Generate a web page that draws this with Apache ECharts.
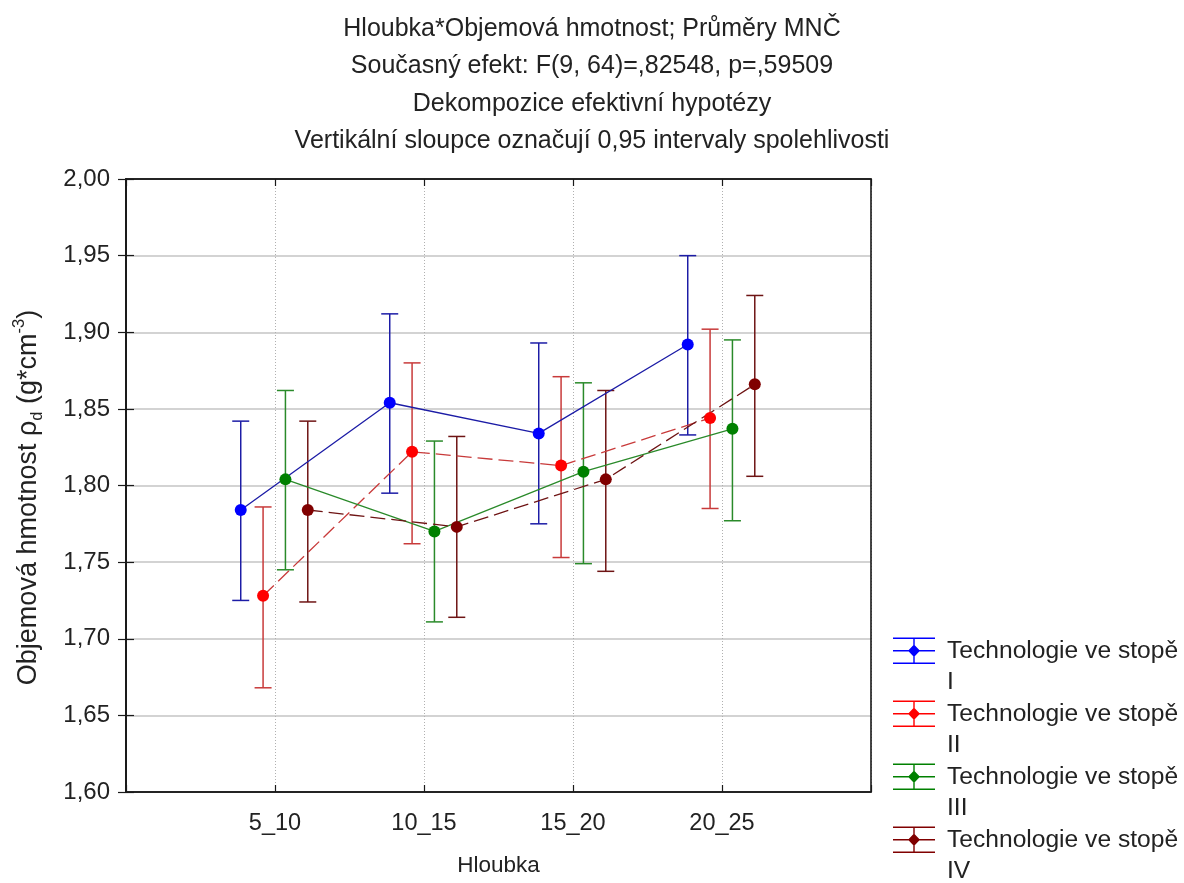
<!DOCTYPE html>
<html>
<head>
<meta charset="utf-8">
<script src="https://cdn.jsdelivr.net/npm/echarts@6/dist/echarts.min.js"></script>
<style>
html,body{margin:0;padding:0;background:#fff;}
#chart{width:1184px;height:883px;}
</style>
</head>
<body>
<div id="chart"></div>
<script>
// ---- data ----
const categories = ['5_10', '10_15', '15_20', '20_25'];
const seriesNames = ['Technologie ve stopě I', 'Technologie ve stopě II', 'Technologie ve stopě III', 'Technologie ve stopě IV'];
const yTicks = [1.60, 1.65, 1.70, 1.75, 1.80, 1.85, 1.90, 1.95, 2.00];

const meanI   = [1.784, 1.854, 1.834, 1.892];
const lowI    = [1.725, 1.795, 1.775, 1.833];
const highI   = [1.842, 1.912, 1.893, 1.950];

const meanII  = [1.728, 1.822, 1.813, 1.844];
const lowII   = [1.668, 1.762, 1.753, 1.785];
const highII  = [1.786, 1.880, 1.871, 1.902];

const meanIII = [1.804, 1.770, 1.809, 1.837];
const lowIII  = [1.745, 1.711, 1.749, 1.777];
const highIII = [1.862, 1.829, 1.867, 1.895];

const meanIV  = [1.784, 1.773, 1.804, 1.866];
const lowIV   = [1.724, 1.714, 1.744, 1.806];
const highIV  = [1.842, 1.832, 1.862, 1.924];

// ---- styling / layout ----
const FONT = 'Liberation Sans, Arial, sans-serif';
const groups = [
  { mean: meanI,   low: lowI,   high: highI,   marker: '#0000ff', line: '#1c1ca6', dash: 'solid' },
  { mean: meanII,  low: lowII,  high: highII,  marker: '#ff0000', line: '#c83a3a', dash: [15, 6] },
  { mean: meanIII, low: lowIII, high: highIII, marker: '#008000', line: '#2a8a2a', dash: 'solid' },
  { mean: meanIV,  low: lowIV,  high: highIV,  marker: '#800000', line: '#6e1414', dash: [15, 6] }
];
const offsets = [-0.23, -0.08, 0.07, 0.22];

const iconPath = 'path://M0,0M49,63M0,2.5H42V4H0ZM0,15H42V16.5H0ZM0,27.5H42V29H0ZM20.3,2.5H21.7V29H20.3ZM21,9.5L27,15.75L21,22L15,15.75Z';

const series = [];
groups.forEach((g, si) => {
  const xs = categories.map((c, i) => i + 1 + offsets[si]);
  series.push({
    type: 'custom',
    silent: true,
    z: 2,
    encode: { x: 0, y: [1, 2] },
    data: xs.map((x, i) => [x, g.low[i], g.high[i]]),
    renderItem: function (params, api) {
      const x = api.value(0);
      const top = api.coord([x, api.value(2)]);
      const bot = api.coord([x, api.value(1)]);
      const w = 8.5;
      const st = { stroke: g.line, lineWidth: 1.5, fill: null };
      return {
        type: 'group',
        children: [
          { type: 'line', shape: { x1: top[0], y1: top[1], x2: bot[0], y2: bot[1] }, style: st },
          { type: 'line', shape: { x1: top[0] - w, y1: top[1], x2: top[0] + w, y2: top[1] }, style: st },
          { type: 'line', shape: { x1: bot[0] - w, y1: bot[1], x2: bot[0] + w, y2: bot[1] }, style: st }
        ]
      };
    }
  });
  series.push({
    name: seriesNames[si],
    type: 'line',
    z: 3,
    data: xs.map((x, i) => [x, g.mean[i]]),
    symbol: 'circle',
    symbolSize: 12,
    itemStyle: { color: g.marker },
    lineStyle: { color: g.line, width: 1.3, type: g.dash },
    emphasis: { disabled: true },
    animation: false
  });
});

const chart = echarts.init(document.getElementById('chart'), null, { renderer: 'canvas' });
chart.setOption({
  backgroundColor: '#ffffff',
  animation: false,
  title: {
    text: 'Hloubka*Objemová hmotnost; Průměry MNČ\nSoučasný efekt: F(9, 64)=,82548, p=,59509\nDekompozice efektivní hypotézy\nVertikální sloupce označují 0,95 intervaly spolehlivosti',
    left: 'center',
    top: 10,
    padding: 0,
    textStyle: { fontFamily: FONT, fontSize: 25, fontWeight: 'normal', color: '#222', lineHeight: 37.5 }
  },
  grid: { left: 126, right: 313, top: 179, bottom: 91, show: true, borderColor: '#1a1a1a', borderWidth: 1.6, backgroundColor: 'transparent', z: 10 },
  legend: {
    orient: 'vertical',
    left: 893,
    top: 635,
    height: 320,
    itemWidth: 49,
    itemHeight: 63,
    itemGap: 0,
    icon: iconPath,
    padding: 0,
    itemStyle: { borderWidth: 0 },
    data: seriesNames,
    formatter: function (n) { return n.replace(' ve stopě ', ' ve stopě\n'); },
    textStyle: { fontFamily: FONT, fontSize: 24.6, lineHeight: 31.5, color: '#222' }
  },
  xAxis: [
    {
      type: 'value', position: 'bottom', min: 0, max: 5, interval: 1,
      axisLine: { show: true, lineStyle: { color: '#1a1a1a', width: 1.6 } },
      axisTick: { show: true, inside: true, length: 7, lineStyle: { color: '#1a1a1a', width: 1.2 } },
      axisLabel: {
        margin: 20, fontFamily: FONT, fontSize: 23.5, color: '#222',
        formatter: function (v) { return categories[Math.round(v) - 1] || ''; }
      },
      splitLine: { show: true, lineStyle: { color: '#b0b0b0', width: 1, type: [1, 2] } },
      name: 'Hloubka', nameLocation: 'middle', nameGap: 62,
      nameTextStyle: { fontFamily: FONT, fontSize: 22.5, color: '#222' }
    },
    {
      type: 'value', position: 'top', min: 0, max: 5, interval: 1,
      axisLine: { show: true, lineStyle: { color: '#1a1a1a', width: 1.6 } },
      axisTick: { show: true, inside: true, length: 7, lineStyle: { color: '#1a1a1a', width: 1.2 } },
      axisLabel: { show: false }, splitLine: { show: false }
    }
  ],
  yAxis: [
    {
      type: 'value', position: 'left', min: 1.6, max: 2.0, interval: 0.05,
      axisLine: { show: true, lineStyle: { color: '#1a1a1a', width: 1.6 } },
      axisTick: { show: true, inside: true, length: 8, lineStyle: { color: '#1a1a1a', width: 1.2 } },
      axisLabel: {
        margin: 16, fontFamily: FONT, fontSize: 24, color: '#222',
        formatter: function (v) {
          const t = yTicks.find(k => Math.abs(k - v) < 1e-6);
          return (t !== undefined ? t : v).toFixed(2).replace('.', ',');
        }
      },
      splitLine: { show: true, lineStyle: { color: '#c4c4c4', width: 1.6 } },
      name: '{a|Objemová hmotnost ρ}{s|d}{a| (g*cm}{p|-3}{a|)}',
      nameLocation: 'middle', nameGap: 80,
      nameTextStyle: {
        fontFamily: FONT, color: '#222', padding: [0, 24, 0, 0],
        rich: {
          a: { fontFamily: FONT, fontSize: 27, lineHeight: 35, color: '#222' },
          s: { fontFamily: FONT, fontSize: 16.5, lineHeight: 16, verticalAlign: 'bottom', color: '#222' },
          p: { fontFamily: FONT, fontSize: 16.5, lineHeight: 16, verticalAlign: 'top', color: '#222' }
        }
      }
    },
    {
      type: 'value', position: 'right', min: 1.6, max: 2.0, interval: 0.05,
      axisLine: { show: true, lineStyle: { color: '#1a1a1a', width: 1.6 } },
      axisTick: { show: true, inside: true, length: 8, lineStyle: { color: '#1a1a1a', width: 1.2 } },
      axisLabel: { show: false }, splitLine: { show: false }
    }
  ],
  series: series
});
</script>
</body>
</html>
